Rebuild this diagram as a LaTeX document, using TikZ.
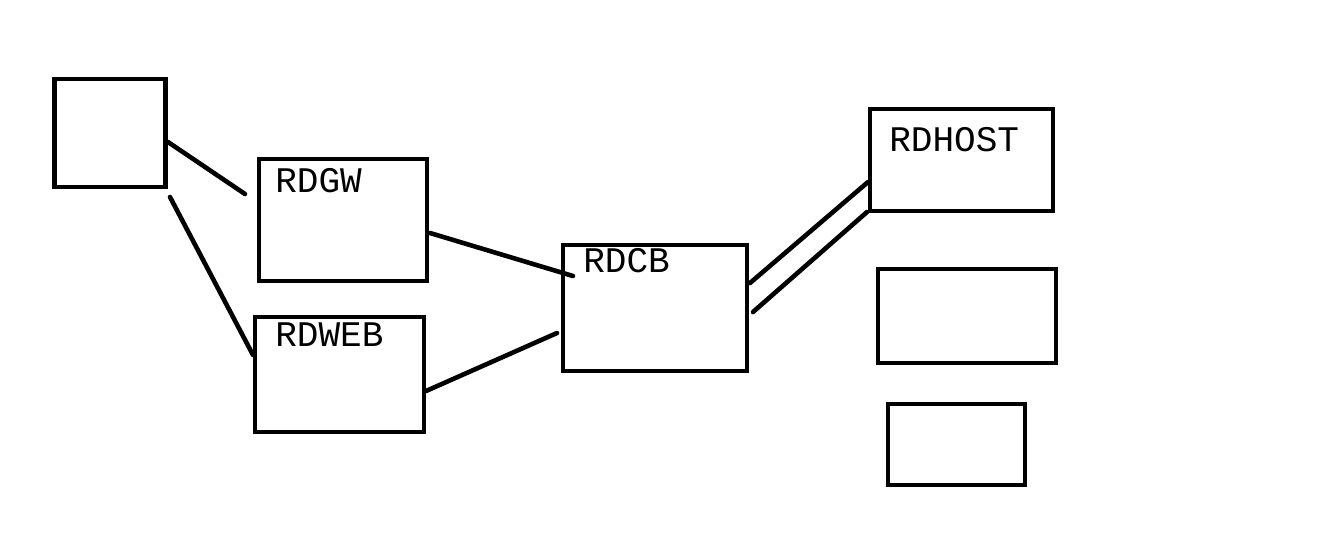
\documentclass[tikz,border=0pt]{standalone}
\usepackage{fontspec}
\setmonofont{Liberation Mono}
\usepackage{tikz}
\def\px{0.02cm}

\begin{document}
\begin{tikzpicture}[x=0.02cm, y=-0.02cm,
	box/.style 2 args={draw, line width=4.6*\px, outer sep=0pt, inner sep=0pt, minimum width=#1*\px, minimum height=#2*\px},
	lbl/.style={anchor=base west, inner sep=0pt, font=\ttfamily\fontsize{20.5}{24}\selectfont},
	wire/.style={line width=4.6*\px, line cap=round}]
			%%%%% START %%%%%
			\useasboundingbox[fill=white] (0, 0) rectangle (1338, 535);
			
			\node[box={111}{108}] (client) at (110, 133) {};
			
			\node[box={168}{122}] (gw) at (343, 220) {};
			\node[lbl] (gwlbl) at ([shift={(16, 33.5)}]gw.north west) {RDGW};
			
			\node[box={169}{115}] (web) at (339.5, 374.5) {};
			\node[lbl] (weblbl) at ([shift={(20, 29)}]web.north west) {RDWEB};
			
			\node[box={184}{126}] (cb) at (655, 308) {};
			\node[lbl] (cblbl) at ([shift={(20, 27.7)}]cb.north west) {RDCB};
			
			\node[box={183}{102}] (host) at (961.5, 160) {};
			\node[lbl] (hostlbl) at ([shift={(19, 42.7)}]host.north west) {RDHOST};
			\node[box={178}{94}] (hostb) at (967, 316) {};
			\node[box={137}{81}] (hostc) at (956.5, 444.5) {};
			
			\draw[wire] ([shift={(2.5, 9)}]client.east) -- ([shift={(-14, -26)}]gw.west);
			\draw[wire] ([shift={(4.5, 10)}]client.south east) -- ([shift={(-2, -19.5)}]web.west);
			\draw[wire] ([shift={(3, 13)}]gw.east) -- ([shift={(10, 31)}]cb.north west);
			\draw[wire] ([shift={(2, 16.5)}]web.east) -- ([shift={(-6, 25)}]cb.west);
			
			\draw[wire] ([shift={(3, -25)}]cb.east) -- ([shift={(-2, -29)}]host.south west);
			\draw[wire] ([shift={(6, 4)}]cb.east) -- ([shift={(-3, 1)}]host.south west);
			%%%%% END %%%%%
\end{tikzpicture}
\end{document}
